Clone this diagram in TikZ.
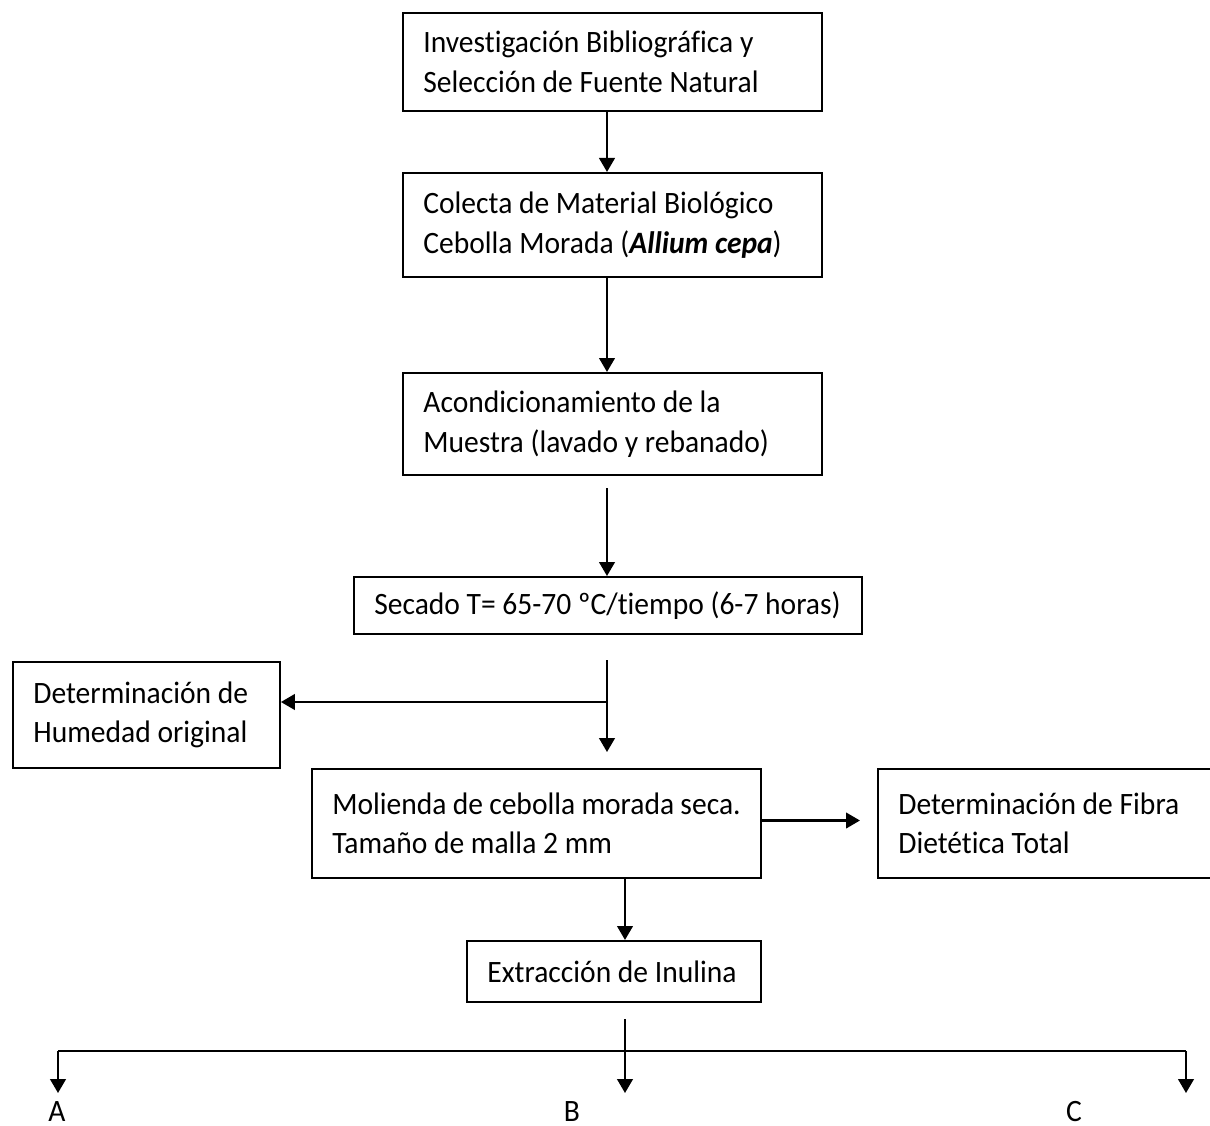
\documentclass[tikz,border=0pt]{standalone}
\usepackage{fontspec}
\setmainfont{Carlito}[Ligatures=NoCommon,FakeStretch=0.95]
\usetikzlibrary{arrows.meta,calc}

\begin{document}
\begin{tikzpicture}[x=0.344pt,y=-0.344pt,
    box/.style={draw,line width=0.7pt,inner xsep=7pt,inner ysep=0pt,align=flush left,font=\fontsize{10.7}{13.6}\selectfont},
    arr/.style={line width=0.7pt,-{Triangle[length=4.8pt,width=5.4pt]}},
    lbl/.style={inner sep=0pt,font=\fontsize{10.7}{13.6}\selectfont}]
  \useasboundingbox (0,0) rectangle (1210,1126);
  \node[box,minimum width=144.1pt,minimum height=33.7pt,text width=130.1pt] (invest) at (612.5,62) {Investigación Bibliográfica y\\Selección de Fuente Natural};
  \node[box,minimum width=144.1pt,minimum height=35.8pt,text width=130.1pt] (colecta) at (612.5,225) {Colecta de Material Biológico\\Cebolla Morada (\textbf{\textit{Allium cepa}})};
  \node[box,minimum width=144.1pt,minimum height=35.1pt,text width=130.1pt] (acond) at (612.5,424) {Acondicionamiento de la\\Muestra (lavado y rebanado)};
  \node[box,minimum width=174.8pt,minimum height=19.6pt,text width=160.8pt] (secado) at (608,605.5) {Secado T= 65-70 ºC/tiempo (6-7 horas)};
  \node[box,minimum width=91.8pt,minimum height=36.5pt,text width=77.8pt] (humedad) at (146.5,715) {Determinación de\\Humedad original};
  \node[box,minimum width=154.5pt,minimum height=37.5pt,text width=140.5pt] (molienda) at (536.5,823.5) {Molienda de cebolla morada seca.\\Tamaño de malla 2 mm\\[2pt]};
  \node[box,minimum width=115.6pt,minimum height=37.5pt,text width=101.6pt] (fibra) at (1046,823.5) {Determinación de Fibra\\Dietética Total\\[2pt]};
  \node[box,minimum width=101.1pt,minimum height=21pt,text width=87.1pt] (extrac) at (614,971.5) {Extracción de Inulina};

  \coordinate (spine) at (607,0);
  \coordinate (mx) at (625,0);
  \coordinate (a3) at (607,488);
  \coordinate (a4) at (607,660);
  \coordinate (a4tip) at (607,752);
  \coordinate (a4br) at (607,702);
  \coordinate (fibtip) at ($(fibra.west)+(-17,-3)$);
  \coordinate (a8) at (625,1019);
  \draw[arr] (spine |- invest.south) -- (spine |- colecta.north);
  \draw[arr] (spine |- colecta.south) -- (spine |- acond.north);
  \draw[arr] (a3) -- (spine |- secado.north);
  \draw[arr] (a4) -- (a4tip);
  \draw[arr] (a4br) -- (a4br -| humedad.east);
  \draw[arr] (molienda.east |- fibtip) -- (fibtip);
  \draw[arr] (mx |- molienda.south) -- (mx |- extrac.north);

  \foreach \ax/\lx/\lab in {58/57/A,625/572/B,1186/1074/C}{
    \coordinate (bar\lab) at (\ax,1051);
    \coordinate (tip\lab) at (\ax,1093);
    \node[lbl] (lab\lab) at (\lx,1112) {\lab};
    \draw[arr] (bar\lab) -- (tip\lab);
  }
  \draw[line width=0.7pt] (barA) -- (barC);
  \draw[line width=0.7pt] (a8) -- (barB);
\end{tikzpicture}
\end{document}
